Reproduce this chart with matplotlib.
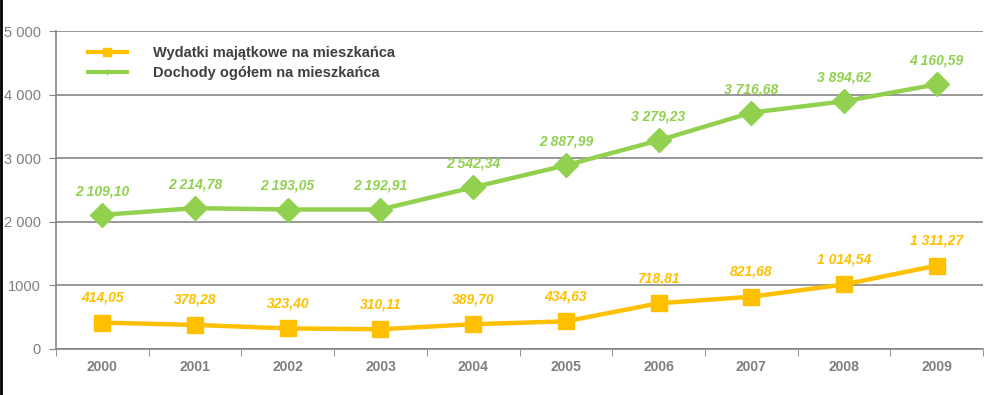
import matplotlib.pyplot as plt
from matplotlib.lines import Line2D
from matplotlib.patches import Rectangle

plt.rcParams["font.family"] = ["Liberation Sans", "DejaVu Sans"]

years = ["2000", "2001", "2002", "2003", "2004", "2005", "2006", "2007", "2008", "2009"]
wydatki = [414.05, 378.28, 323.40, 310.11, 389.70, 434.63, 718.81, 821.68, 1014.54, 1311.27]
dochody = [2109.10, 2214.78, 2193.05, 2192.91, 2542.34, 2887.99, 3279.23, 3716.68, 3894.62, 4160.59]
y_ticks = [0, 1000, 2000, 3000, 4000, 5000]
y_tick_labels = ["0", "1000", "2 000", "3 000", "4 000", "5 000"]

ORANGE = "#FFC000"
GREEN = "#92D050"
GRAY = "#868686"
TXT = "#7F7F7F"


def pl(v):
    return f"{v:,.2f}".replace(",", " ").replace(".", ",")


fig = plt.figure(figsize=(9.86, 3.95), dpi=100)
ax = fig.add_axes([0.0568, 0.1165, 0.9402, 0.805])
x = list(range(len(years)))

ax.plot(x, wydatki, color=ORANGE, lw=3.2, marker="s", ms=12, zorder=3)
ax.plot(x, dochody, color=GREEN, lw=3.2, marker="D", ms=12.5, zorder=3)

for xi, v in zip(x, wydatki):
    ax.annotate(pl(v), (xi, v), xytext=(0, 18), textcoords="offset points",
                ha="center", va="center", color=ORANGE, fontsize=10,
                fontweight="bold", fontstyle="italic")
for xi, v in zip(x, dochody):
    ax.annotate(pl(v), (xi, v), xytext=(0, 17), textcoords="offset points",
                ha="center", va="center", color=GREEN, fontsize=10,
                fontweight="bold", fontstyle="italic")

ax.set_xlim(-0.5, len(years) - 0.5)
ax.set_ylim(0, 5000)
ax.set_yticks(y_ticks)
ax.set_yticklabels(y_tick_labels, color=TXT, fontsize=10.5)
ax.set_xticks(x)
ax.set_xticklabels(years, color=TXT, fontsize=10, fontweight="bold")
ax.tick_params(axis="x", length=0, pad=8)
ax.set_xticks([i - 0.5 for i in range(len(years) + 1)], minor=True)
ax.tick_params(axis="x", which="minor", length=5, color=GRAY)
ax.tick_params(axis="y", length=5, color=GRAY, pad=6)
ax.grid(axis="y", color=GRAY, lw=1.2)
ax.set_axisbelow(True)
for s in ["top", "right"]:
    ax.spines[s].set_visible(False)
for s in ["left", "bottom"]:
    ax.spines[s].set_color(GRAY)
    ax.spines[s].set_linewidth(1.2)

# white legend box over the grid
ax.add_patch(Rectangle((0.02, 0.808), 0.475, 0.188, transform=ax.transAxes,
                       facecolor="white", edgecolor="none", zorder=2))
handles = [
    Line2D([], [], color=ORANGE, lw=3, marker="s", ms=6),
    Line2D([], [], color=GREEN, lw=3, marker="+", ms=4),
]
leg = ax.legend(handles, ["Wydatki majątkowe na mieszkańca", "Dochody ogółem na mieszkańca"],
                loc="upper left", bbox_to_anchor=(0.02, 0.995), frameon=False,
                handlelength=2.7, handletextpad=1.8, labelspacing=0.45,
                prop={"weight": "bold", "size": 10.5})
for t in leg.get_texts():
    t.set_color("#404040")

fig.add_artist(Line2D([0.001, 0.001], [0, 1], color="black", lw=2, transform=fig.transFigure))

fig.savefig("out.png", dpi=100)
